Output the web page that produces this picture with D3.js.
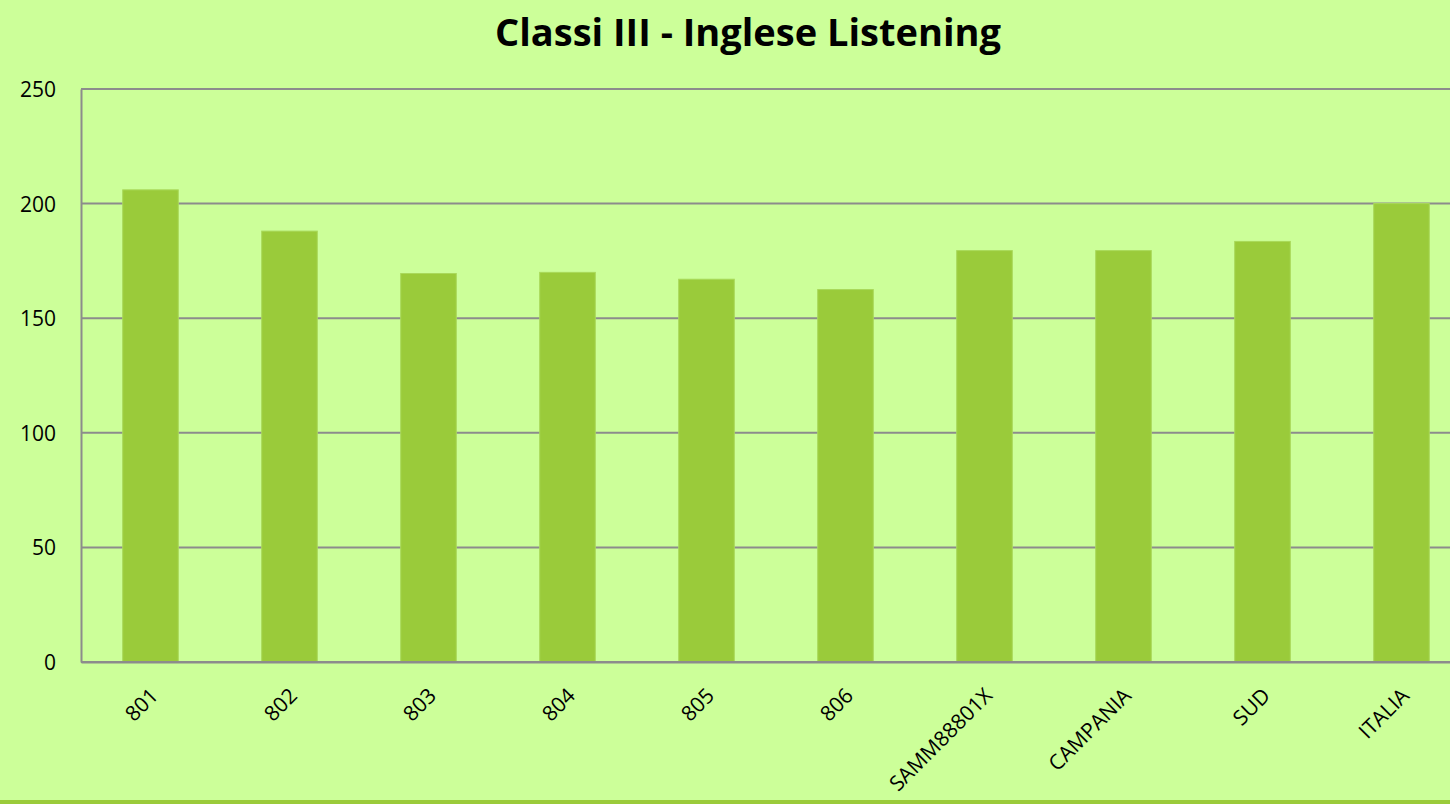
<!DOCTYPE html>
<html>
<head>
<meta charset="utf-8">
<style>
  body { margin: 0; background: #ccff99; }
  svg { display: block; }
  .grid line { stroke: #8c8c8c; stroke-width: 2px; }
  text { font-family: "Open Sans", "Noto Sans", sans-serif; fill: #000; }
</style>
</head>
<body>
<svg width="1450" height="804"></svg>
<script src="https://d3js.org/d3.v7.min.js"></script>
<script>
var categories = ["801", "802", "803", "804", "805", "806", "SAMM88801X", "CAMPANIA", "SUD", "ITALIA"];
var values = [206, 188, 169.5, 170, 167, 162.5, 179.5, 179.5, 183.5, 200];
var yTicks = [0, 50, 100, 150, 200, 250];

var svg = d3.select("svg"),
    margin = {top: 89, left: 81, bottom: 142},
    plotWidth = 1390,
    height = 804 - margin.top - margin.bottom;

svg.append("rect").attr("width", 1450).attr("height", 804).attr("fill", "#ccff99");

var g = svg.append("g").attr("transform", "translate(" + margin.left + "," + margin.top + ")");

var x = d3.scaleBand()
    .domain(categories)
    .range([0, plotWidth])
    .paddingInner(0.6)
    .paddingOuter(0.3);

var y = d3.scaleLinear()
    .domain([0, 250])
    .range([height, 0]);

// gridlines
g.append("g")
    .attr("class", "grid")
  .selectAll("line")
  .data(yTicks)
  .enter().append("line")
    .attr("x1", 0)
    .attr("x2", plotWidth)
    .attr("y1", function(d) { return y(d); })
    .attr("y2", function(d) { return y(d); });

// bars
g.append("g")
  .selectAll("rect")
  .data(values)
  .enter().append("rect")
    .attr("x", function(d, i) { return x(categories[i]); })
    .attr("y", function(d) { return y(d); })
    .attr("width", x.bandwidth())
    .attr("height", function(d) { return height - y(d); })
    .attr("fill", "#9acb3a")
    .attr("stroke", "#a9d95a")
    .attr("stroke-width", 1);

// y axis
var yAxis = g.append("g")
    .call(d3.axisLeft(y).tickValues(yTicks).tickSize(0).tickPadding(25));
yAxis.select(".domain").attr("stroke", "#8c8c8c").attr("stroke-width", 2);
yAxis.selectAll("text").style("font-size", "21px").attr("dy", "0.36em");

// x axis
var xAxis = g.append("g")
    .attr("transform", "translate(0," + height + ")")
    .call(d3.axisBottom(x).tickSize(0).tickPadding(0));
xAxis.select(".domain").attr("stroke", "#8c8c8c").attr("stroke-width", 2);
xAxis.selectAll("text")
    .style("font-size", "21px")
    .attr("text-anchor", "end")
    .attr("dy", "0")
    .attr("transform", "translate(9,35) rotate(-45)");

// base line redrawn over bars
g.append("line")
    .attr("x1", 0).attr("x2", plotWidth)
    .attr("y1", height).attr("y2", height)
    .attr("stroke", "#8c8c8c").attr("stroke-width", 2);

// title
svg.append("text")
    .attr("x", 748)
    .attr("y", 46)
    .attr("text-anchor", "middle")
    .style("font-size", "38px")
    .style("font-weight", "bold")
    .text("Classi III - Inglese Listening");

// bottom border
svg.append("rect")
    .attr("x", 0).attr("y", 800)
    .attr("width", 1450).attr("height", 4)
    .attr("fill", "#9acb3a");
</script>
</body>
</html>
